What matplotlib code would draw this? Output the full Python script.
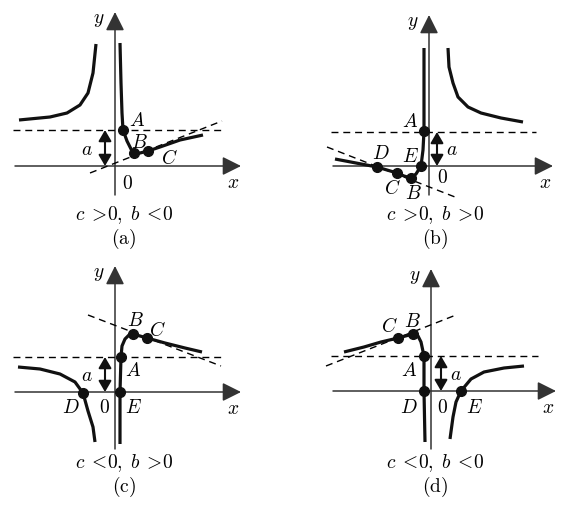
import matplotlib
matplotlib.use("Agg")
import matplotlib.pyplot as plt
from matplotlib.patches import FancyArrowPatch

plt.rcParams['mathtext.fontset'] = 'cm'
plt.rcParams['font.family'] = ['DejaVu Serif']

W, H = 562, 507

# ---------------- data (pixel coordinates) ----------------
# panel (a)  c>0, b<0
a_axes = dict(x0=15, x1=241, y_x=166, yx=115, y0=195, y1=12, hy=130, hx0=13, hx1=223)
a_curve_left = [(19, 120), (50, 117), (67, 113), (80, 105), (88, 93), (93, 73), (96, 44)]
a_curve_right = [(120, 43), (121, 83), (122, 113), (123, 130), (127, 141), (131, 149), (134, 153),
                 (140, 153), (148, 151), (160, 147), (180, 140), (203, 135)]
a_oblique = [(90, 173), (222, 121)]
a_points = [(123, 130), (134, 153), (148, 151)]
a_labels = [("A", 137, 121), ("B", 139, 143), ("C", 169, 158)]
a_arrow_x = 105
a_a_label = (87, 150)
a_caption = r"$c\;{>}\!0,\;b\;{<}\!0$"

# panel (b)  c>0, b>0
b_axes = dict(x0=333, x1=553, y_x=166, yx=429, y0=195, y1=15, hy=132, hx0=331, hx1=536)
b_curve_right = [(448, 48), (449, 67), (453, 83), (458, 97), (468, 107), (481, 113), (501, 118), (523, 122)]
b_curve_left = [(424, 48), (424, 100), (424, 131), (423, 150), (421, 166), (416, 174), (411, 178),
                (404, 176), (397, 173), (387, 170), (377, 167), (356, 163), (335, 159)]
b_oblique = [(327, 147), (455, 197)]
b_points = [(424, 131), (421, 166), (411, 178), (397, 173), (377, 167)]
b_labels = [("A", 410, 122), ("D", 381, 154), ("E", 410, 157), ("C", 392, 188), ("B", 413, 194)]
b_arrow_x = 437
b_a_label = (452, 150)
b_caption = r"$c\;{>}\!0,\;b\;{>}\!0$"

# panel (c)  c<0, b>0
c_axes = dict(x0=15, x1=241, y_x=392, yx=115, y0=449, y1=266, hy=357, hx0=13, hx1=223)
c_curve_right = [(120, 444), (120, 392), (121, 357), (122, 346), (125, 339), (129, 335), (133, 334),
                 (140, 336), (147, 338), (165, 343), (185, 348), (202, 352)]
c_curve_left = [(18, 367), (40, 369), (60, 374), (75, 382), (83, 393), (88, 411), (93, 427), (95, 442)]
c_oblique = [(88, 315), (221, 366)]
c_points = [(121, 357), (120, 392), (133, 334), (147, 338), (83, 393)]
c_labels = [("B", 135, 321), ("C", 157, 330), ("A", 133, 371), ("D", 71, 408), ("E", 133, 408)]
c_arrow_x = 105
c_a_label = (87, 376)
c_caption = r"$c\;{<}\!0,\;b\;{>}\!0$"

# panel (d)  c<0, b<0
d_axes = dict(x0=333, x1=556, y_x=391, yx=431, y0=449, y1=269, hy=356, hx0=331, hx1=538)
d_curve_left = [(344, 352), (364, 347), (381, 342), (398, 338), (413, 334), (418, 336), (421, 342),
                (424, 356), (424, 391), (425, 442)]
d_curve_right = [(450, 439), (453, 417), (456, 402), (461, 391), (471, 379), (484, 372), (504, 368), (524, 366)]
d_oblique = [(326, 366), (456, 315)]
d_points = [(398, 338), (413, 334), (424, 356), (424, 391), (461, 391)]
d_labels = [("C", 389, 326), ("B", 412, 322), ("A", 409, 371), ("D", 409, 408), ("E", 474, 408)]
d_arrow_x = 441
d_a_label = (456, 375)
d_caption = r"$c\;{<}\!0,\;b\;{<}\!0$"

panel_names = ["(a)", "(b)", "(c)", "(d)"]
zero_pos = [(127, 184), (442, 178), (104, 408), (442, 408)]

# ---------------- drawing ----------------
fig = plt.figure(figsize=(W / 100, H / 100), dpi=100)
ax = fig.add_axes([0, 0, 1, 1])
ax.set_xlim(0, W)
ax.set_ylim(H, 0)
ax.axis('off')

AX_COL = '#333333'
CURVE_LW = 2.3
LAB = 14
CAP = 14


def arrow(p0, p1, lw=1.1, scale=19, col=AX_COL):
    ax.add_patch(FancyArrowPatch(p0, p1, arrowstyle='-|>,head_length=0.6,head_width=0.3',
                                 mutation_scale=scale, lw=lw, color=col,
                                 shrinkA=0, shrinkB=0, zorder=2))


def draw_panel(axd, curves, oblique, points, labels, arrow_x, a_lab):
    # axes
    arrow((axd['x0'], axd['y_x']), (axd['x1'], axd['y_x']))
    arrow((axd['yx'], axd['y0']), (axd['yx'], axd['y1']))
    # dashed horizontal asymptote
    ax.plot([axd['hx0'], axd['hx1']], [axd['hy'], axd['hy']], ls=(0, (5, 3.5)), lw=1.0, color='k', zorder=2)
    # oblique dashed
    ox, oy = zip(*oblique)
    ax.plot(ox, oy, ls=(0, (5, 3.5)), lw=1.0, color='k', zorder=2)
    # curves
    for c in curves:
        xs, ys = zip(*c)
        ax.plot(xs, ys, color='#111111', lw=CURVE_LW, solid_capstyle='butt', solid_joinstyle='round', zorder=3)
    # points
    px, py = zip(*points)
    ax.plot(px, py, 'o', ms=7, color='#111111', zorder=4)
    # labels
    for t, x, y in labels:
        ax.text(x, y, f"${t}$", fontsize=LAB, ha='center', va='center', zorder=5)
    # double arrow 'a'
    ax.add_patch(FancyArrowPatch((arrow_x, axd['hy']), (arrow_x, axd['y_x']),
                                 arrowstyle='<|-|>,head_length=0.6,head_width=0.35', mutation_scale=11,
                                 lw=1.5, color='#111111', shrinkA=0, shrinkB=0, zorder=4))
    ax.text(a_lab[0], a_lab[1], r"$a$", fontsize=LAB, ha='center', va='center')
    # axis names
    ax.text(axd['x1'] - 8, axd['y_x'] + 17, r"$x$", fontsize=LAB, ha='center', va='center')
    ax.text(axd['yx'] - 16, axd['y1'] + 8, r"$y$", fontsize=LAB, ha='center', va='center')


panels = [
    (a_axes, [a_curve_left, a_curve_right], a_oblique, a_points, a_labels, a_arrow_x, a_a_label, a_caption, 124, 215, 239),
    (b_axes, [b_curve_left, b_curve_right], b_oblique, b_points, b_labels, b_arrow_x, b_a_label, b_caption, 435, 215, 239),
    (c_axes, [c_curve_left, c_curve_right], c_oblique, c_points, c_labels, c_arrow_x, c_a_label, c_caption, 124, 463, 487),
    (d_axes, [d_curve_left, d_curve_right], d_oblique, d_points, d_labels, d_arrow_x, d_a_label, d_caption, 435, 463, 487),
]

for i, (axd, curves, obl, pts, labs, arx, alab, cap, cx, cy1, cy2) in enumerate(panels):
    draw_panel(axd, curves, obl, pts, labs, arx, alab)
    ax.text(cx, cy1, cap, fontsize=CAP, ha='center', va='center')
    ax.text(cx, cy2, r"$\mathrm{" + panel_names[i] + "}$", fontsize=CAP, ha='center', va='center')
    ax.text(zero_pos[i][0], zero_pos[i][1], r"$0$", fontsize=LAB, ha='center', va='center')

fig.savefig("out.png", dpi=100)
